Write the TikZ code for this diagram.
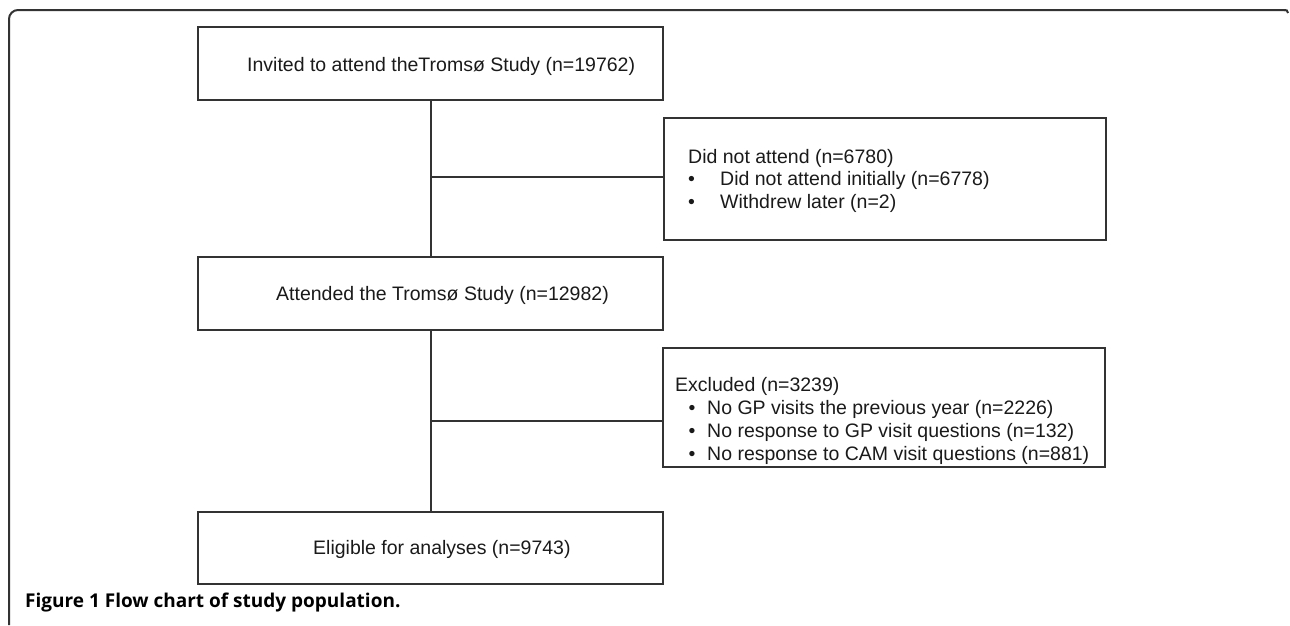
\documentclass[tikz,border=0pt]{standalone}
\usepackage{fontspec}
\setmainfont{Liberation Sans}
\newfontfamily\capfont{Open Sans}
\usetikzlibrary{positioning,calc}
\definecolor{linegray}{HTML}{333333}
\definecolor{textgray}{HTML}{1A1A1A}
\tikzstyle{stage} = [rectangle, draw=linegray, line width=2pt, inner sep=0pt]
\tikzstyle{txt} = [inner sep=0pt, anchor=base west, text=textgray, font=\fontsize{19.5}{23}\selectfont]
\tikzstyle{link} = [draw=linegray, line width=2pt]

\begin{document}
\begin{tikzpicture}[x=1pt,y=-1pt]
\useasboundingbox (0,0) rectangle (1290,625);
% frame of the figure
\draw[link, rounded corners=9pt] (9,625) -- (9,10) -- (1285,10);
\draw[link] (1284,10) .. controls (1287,10) .. (1288,13);
% boxes
\node (invited) at (430.5,63.5) [stage, minimum width=465pt, minimum height=73pt] {};
\node (notattend) at (885,179) [stage, minimum width=442pt, minimum height=122pt] {};
\node (attended) at (430.5,293.5) [stage, minimum width=465pt, minimum height=73pt] {};
\node (excluded) at (884,407.5) [stage, minimum width=442pt, minimum height=119pt] {};
\node (eligible) at (430.5,548) [stage, minimum width=465pt, minimum height=72pt] {};
% texts
\node (invitedtxt) at (247,71) [txt] {Invited to attend theTromsø Study (n=19762)};
\node (attendedtxt) at (276,300) [txt] {Attended the Tromsø Study (n=12982)};
\node (eligibletxt) at (313,554) [txt] {Eligible for analyses (n=9743)};
\node (nottxt) at (688,163) [txt] {Did not attend (n=6780)};
\node (nota) at (688,185.5) [txt] {\makebox[32pt][l]{•}Did not attend initially (n=6778)};
\node (notb) at (688,208) [txt] {\makebox[32pt][l]{•}Withdrew later (n=2)};
\node (exctxt) at (675,391) [txt] {Excluded (n=3239)};
\node (exca) at (688.5,414.5) [txt] {\makebox[18.5pt][l]{•}No GP visits the previous year (n=2226)};
\node (excb) at (688.5,437.5) [txt] {\makebox[18.5pt][l]{•}No response to GP visit questions (n=132)};
\node (excc) at (688.5,460.5) [txt] {\makebox[18.5pt][l]{•}No response to CAM visit questions (n=881)};
% connectors
\coordinate (j1) at (430.5,177);
\coordinate (j2) at (430.5,421);
\draw[link] (invited) -- (attended);
\draw[link] (attended) -- (eligible);
\draw[link] (j1) -- (j1 -| notattend.west);
\draw[link] (j2) -- (j2 -| excluded.west);
% caption
\node (caption) at (25,607) [anchor=base west, inner sep=0pt, font=\capfont\bfseries\fontsize{19}{22}\selectfont] {Figure 1 Flow chart of study population.};
\end{tikzpicture}
\end{document}
